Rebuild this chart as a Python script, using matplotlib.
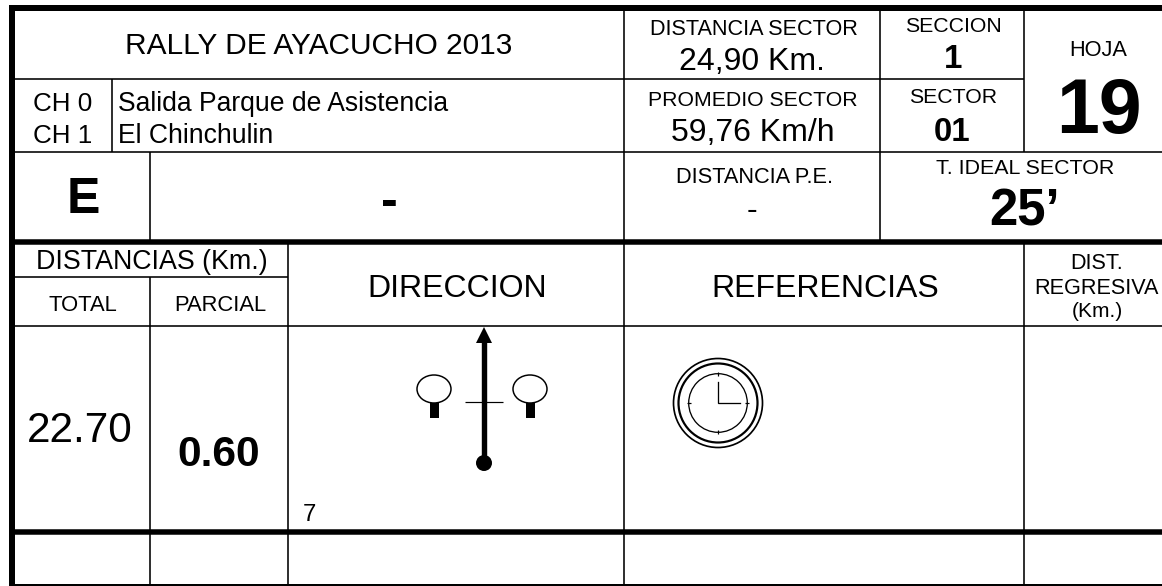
import matplotlib
matplotlib.use("Agg")
import matplotlib.pyplot as plt
from matplotlib.patches import Ellipse, Circle, Rectangle, Polygon

plt.rcParams['font.family'] = ['Liberation Sans', 'DejaVu Sans']

# sheet content
event_title = "RALLY DE AYACUCHO 2013"
control_codes = ["CH 0", "CH 1"]
control_names = ["Salida Parque de Asistencia", "El Chinchulin"]
stage_letter = "E"
stage_name = "-"
sector_distance = "24,90 Km."
sector_average = "59,76 Km/h"
section_no = "1"
sector_no = "01"
sheet_no = "19"
pe_distance = "-"
ideal_time = "25\u2019"
total_km = "22.70"
partial_km = "0.60"
note_no = "7"

fig = plt.figure(figsize=(11.62, 5.86), dpi=100)
ax = fig.add_axes([0, 0, 1, 1])
ax.set_xlim(0, 1162)
ax.set_ylim(586, 0)
ax.axis('off')


def hline(y, x0, x1, w=1.6):
    ax.plot([x0, x1], [y, y], color='black', lw=w * 0.72, solid_capstyle='butt')


def vline(x, y0, y1, w=1.6):
    ax.plot([x, x], [y0, y1], color='black', lw=w * 0.72, solid_capstyle='butt')


def label(x, y, s, px, bold=False, ha='center'):
    ax.text(x, y, s, fontsize=px * 0.72, ha=ha, va='baseline', color='black',
            fontweight='bold' if bold else 'normal')


# grid lines
hline(8, 9, 1162, 6)
hline(79, 15, 1024)
hline(152, 15, 1162)
hline(242, 15, 1162, 5.5)
hline(277, 15, 288)
hline(326, 15, 1162)
hline(532, 15, 1162, 5.5)
hline(584.5, 15, 1162, 2)
vline(12, 5, 586, 6)
vline(112, 79, 152)
vline(150, 152, 241)
vline(150, 277, 585)
vline(288, 241, 585)
vline(624, 8, 585)
vline(880, 8, 241)
vline(1024, 8, 152)
vline(1024, 241, 585)

# header texts
label(319, 54, event_title, 29.9)
label(33, 111, control_codes[0], 26, ha='left')
label(33, 143, control_codes[1], 26, ha='left')
label(118, 111, control_names[0], 26.5, ha='left')
label(118, 143, control_names[1], 26.5, ha='left')
label(83, 213, stage_letter, 50, bold=True)
label(389, 216, stage_name, 50, bold=True)

label(754, 35, "DISTANCIA SECTOR", 21.6)
label(752, 70, sector_distance, 32)
label(753, 106, "PROMEDIO SECTOR", 21.3)
label(753, 141, sector_average, 32)
label(953, 32, "SECCION", 21.3)
label(953, 68, section_no, 33, bold=True)
label(953, 103, "SECTOR", 21.3)
label(952, 141, sector_no, 33, bold=True)
label(1098, 56, "HOJA", 21.8)
label(1099, 133, sheet_no, 77, bold=True)
label(754, 183, "DISTANCIA P.E.", 21.8)
label(1025, 174, "T. IDEAL SECTOR", 21.4)
label(752, 219, pe_distance, 32)
label(1025, 226, ideal_time, 51, bold=True)

# column heads
label(152, 269, "DISTANCIAS (Km.)", 26.7)
label(83, 311, "TOTAL", 22)
label(220, 311, "PARCIAL", 22)
label(457, 297, "DIRECCION", 32)
label(825, 297, "REFERENCIAS", 32)
label(1097, 269, "DIST.", 21.6)
label(1096, 294, "REGRESIVA", 21.6)
label(1097, 317, "(Km.)", 21)

# row
label(80, 442, total_km, 42.4)
label(219, 466, partial_km, 42.6, bold=True)
label(303, 521, note_no, 24, ha='left')

# direction symbol
ax.plot([484, 484], [342, 463], color='black', lw=5.4 * 0.72, solid_capstyle='butt')
ax.add_patch(Polygon([[484, 327], [476, 343], [492, 343]], closed=True, fc='black', ec='none'))
ax.add_patch(Circle((484, 463), 8, fc='black', ec='none'))
hline(402, 465, 503, 1.2)
for cx in [434, 530]:
    ax.add_patch(Ellipse((cx, 389), 34, 28, fc='none', ec='black', lw=1.5 * 0.72))
    ax.add_patch(Rectangle((cx - 4.5, 403), 9, 15, fc='black', ec='none'))

# clock symbol
clock_x, clock_y = 718, 403
for r, w in [(44.5, 1.7), (39.5, 2.2), (29.3, 1.3)]:
    ax.add_patch(Circle((clock_x, clock_y), r, fc='none', ec='black', lw=w * 0.72))
ax.plot([clock_x, clock_x, clock_x + 22], [clock_y - 21, clock_y, clock_y],
        color='black', lw=1.3 * 0.72, solid_joinstyle='miter')
vline(clock_x, clock_y - 31, clock_y - 27, 1.2)
vline(clock_x, clock_y + 27, clock_y + 31, 1.2)
hline(clock_y, clock_x - 31, clock_x - 27, 1.2)
hline(clock_y, clock_x + 27, clock_x + 31, 1.2)

fig.savefig('out.png', dpi=100)
